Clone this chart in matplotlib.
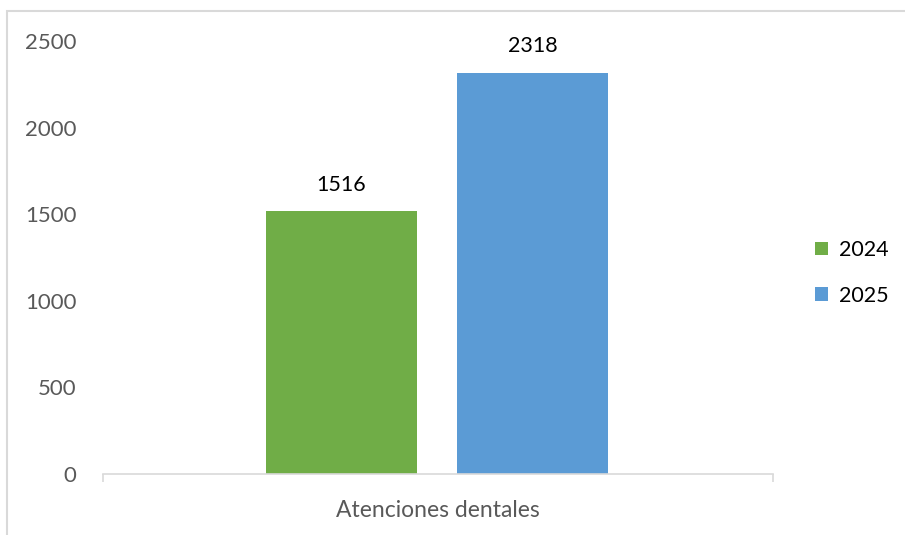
import matplotlib.pyplot as plt
from matplotlib.patches import Rectangle

# datos
categoria = 'Atenciones dentales'
series = ['2024', '2025']
valores = [1516, 2318]
colores = ['#70AD47', '#5B9BD5']
yticks = [0, 500, 1000, 1500, 2000, 2500]

plt.rcParams['font.family'] = ['Lato', 'DejaVu Sans']

fig = plt.figure(figsize=(9.05, 5.35), dpi=100)
ax = fig.add_axes([103/905, 61/535, 670/905, 433/535])

# borde del gráfico (tipo Excel)
fig.patches.append(Rectangle((6.5/905, -0.1), 1.2, (535 - 10.5)/535 + 0.1,
                             transform=fig.transFigure, fill=False,
                             edgecolor='#d9d9d9', linewidth=1.5))

ancho = 0.2254
offsets = [-0.144, 0.141]
for s, v, c, o in zip(series, valores, colores, offsets):
    ax.bar(o, v, width=ancho, color=c, label=s)
    ax.text(o, v + 95, str(v), ha='center', va='bottom', fontsize=15.5, color='#000000')

ax.set_xlim(-0.5, 0.5)
ax.set_ylim(0, 2500)
ax.set_yticks(yticks)
ax.set_yticklabels([str(t) for t in yticks], fontsize=16, color='#595959')
ax.tick_params(axis='y', length=0, pad=19)

ax.set_xticks([-0.5, 0.5])
ax.set_xticklabels(['', ''])
ax.tick_params(axis='x', length=6, color='#d9d9d9', width=1.2)
ax.text(0.5, -0.06, categoria, transform=ax.transAxes, ha='center', va='top',
        fontsize=16.5, color='#595959')

for lado in ['top', 'right', 'left']:
    ax.spines[lado].set_visible(False)
ax.spines['bottom'].set_color('#d9d9d9')
ax.spines['bottom'].set_linewidth(1.2)

leg = fig.legend(loc='center left', bbox_to_anchor=(796/905, 1 - 273/535), frameon=False,
                 fontsize=15.5, handlelength=0.6, handleheight=0.6, handletextpad=0.5,
                 labelspacing=1.2)
for t in leg.get_texts():
    t.set_color('#000000')

plt.savefig('out.png', dpi=100)
